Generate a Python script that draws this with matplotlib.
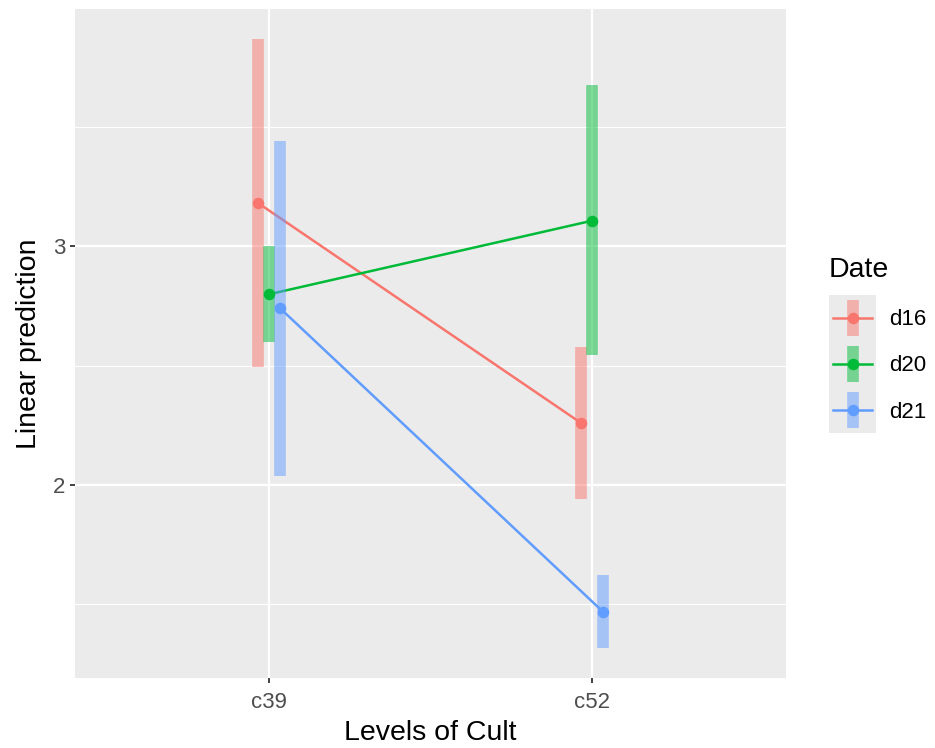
import numpy as np
import matplotlib
matplotlib.use("Agg")
import matplotlib.pyplot as plt

plt.rcParams["font.family"] = ["Liberation Sans", "DejaVu Sans"]

# estimated marginal means by Cult and Date, with confidence limits
cults = ["c39", "c52"]
dates = ["d16", "d20", "d21"]
colours = ["#F8766D", "#00BA38", "#619CFF"]

emmean = {
    "d16": [3.182, 2.258],
    "d20": [2.799, 3.108],
    "d21": [2.742, 1.467],
}
lower_cl = {
    "d16": [2.493, 1.940],
    "d20": [2.600, 2.545],
    "d21": [2.036, 1.316],
}
upper_cl = {
    "d16": [3.869, 2.578],
    "d20": [3.000, 3.677],
    "d21": [3.443, 1.619],
}

dodge = 0.1
bg = "#EBEBEB"

fig = plt.figure(figsize=(9.35, 7.48), dpi=100)
ax = fig.add_axes([75 / 935, 1 - 678 / 748, 711 / 935, 669 / 748])
ax.set_facecolor(bg)

x = np.arange(1, len(cults) + 1)
offsets = (np.arange(len(dates)) - (len(dates) - 1) / 2) * dodge / len(dates)

for i, d in enumerate(dates):
    xs = x + offsets[i]
    ax.plot(xs, emmean[d], color=colours[i], lw=1.8, zorder=3,
            solid_capstyle="butt")
for i, d in enumerate(dates):
    xs = x + offsets[i]
    ax.vlines(xs, lower_cl[d], upper_cl[d], color=colours[i], alpha=0.5,
              lw=8.4, zorder=4)
for i, d in enumerate(dates):
    xs = x + offsets[i]
    ax.plot(xs, emmean[d], "o", color=colours[i], ms=8.3, mew=0, zorder=5)

# ggplot-like limits: discrete x expanded by 0.6, continuous y by 5%
ax.set_xlim(0.4, len(cults) + 0.6)
lo = min(min(v) for v in lower_cl.values())
hi = max(max(v) for v in upper_cl.values())
pad = (hi - lo) * 0.05
ax.set_ylim(lo - pad, hi + pad)

ax.set_xticks(x)
ax.set_xticklabels(cults)
ax.set_yticks([2, 3])
ax.set_yticks([1.5, 2.5, 3.5], minor=True)
ax.grid(True, which="major", color="white", lw=1.65)
ax.grid(True, which="minor", axis="y", color="white", lw=0.85)
ax.set_axisbelow(True)
for s in ax.spines.values():
    s.set_visible(False)
ax.tick_params(axis="both", which="major", length=3.8, width=1.3,
               color="#333333", labelcolor="#4D4D4D", labelsize=16, pad=3)
ax.tick_params(axis="x", which="major", pad=6)
ax.tick_params(axis="y", which="minor", length=0)

ax.set_xlabel("Levels of Cult", fontsize=20.5, color="black", labelpad=5)
ax.set_ylabel("Linear prediction", fontsize=20.5, color="black", labelpad=8)

# legend drawn as its own small panel
fig.text(829 / 935, 1 - 277 / 748, "Date", fontsize=20.5, ha="left",
         va="baseline")
lax = fig.add_axes([829 / 935, 1 - 433 / 748, 47 / 935, 138 / 748])
lax.set_facecolor(bg)
lax.set_xlim(0, 1)
lax.set_ylim(0, len(dates))
lax.set_axis_off()
lax.add_patch(plt.Rectangle((0, 0), 1, len(dates), color=bg, zorder=0))
for i, d in enumerate(dates):
    yc = len(dates) - i - 0.5
    lax.plot([0.09, 0.91], [yc, yc], color=colours[i], lw=1.8, zorder=3)
    lax.plot([0.5, 0.5], [yc - 0.4, yc + 0.4], color=colours[i], alpha=0.5,
             lw=8.4, solid_capstyle="butt", zorder=4)
    lax.plot(0.5, yc, "o", color=colours[i], ms=8.3, mew=0, zorder=5)
    fig.text(889 / 935, 1 - (435 - 138 * (yc / len(dates))) / 748, d,
             fontsize=16, ha="left", va="center")

fig.savefig("out.png", dpi=100)
